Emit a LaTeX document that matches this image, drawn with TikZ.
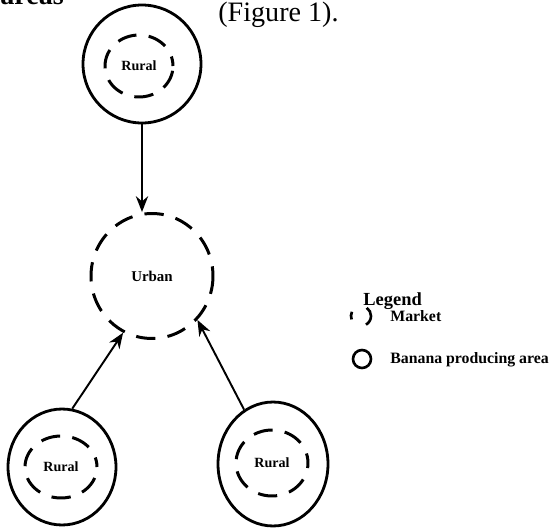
\documentclass[tikz,border=0pt]{standalone}
\usepackage{fontspec}
\setmainfont{Liberation Serif}
\usetikzlibrary{arrows.meta,shapes.geometric}
\tikzset{
  area/.style={ellipse,draw=black,line width=1.6pt,inner sep=0pt},
  mkt/.style={ellipse,draw=black,line width=1.7pt,inner sep=0pt,
              dash pattern=on 11pt off 7pt,dash phase=5.5pt,
              font=\fontsize{8}{9}\selectfont\bfseries},
  ln/.style={-{Stealth[length=9pt,width=7pt]},line width=1.1pt},
  lbl/.style={font=\fontsize{9}{10}\selectfont\bfseries},
}
\begin{document}
\begin{tikzpicture}[x=0.02cm,y=-0.02cm]
    \useasboundingbox (0,0) rectangle (549,528);
    % running text of the page
    \node[anchor=base west,inner sep=0pt,font=\fontsize{16}{18}\selectfont\bfseries]
      (txtareas) at (0,4) {areas};
    \node[anchor=base west,inner sep=0pt,font=\fontsize{16}{18}\selectfont]
      (txtfig) at (218,21) {(Figure 1).};
    % producing areas
    \node[area,minimum width=2.36cm,minimum height=2.36cm] (ruraltop) at (142,64) {};
    \node[area,minimum width=2.16cm,minimum height=2.32cm] (rurall) at (62,467) {};
    \node[area,minimum width=2.2cm,minimum height=2.48cm] (ruralr) at (273,464) {};
    % markets
    \node[mkt,minimum width=1.36cm,minimum height=1.24cm] (mkttop) at (139,66) {Rural};
    \node[mkt,minimum width=1.44cm,minimum height=1.24cm] (mktl) at (61,467) {Rural};
    \node[mkt,minimum width=1.44cm,minimum height=1.32cm] (mktr) at (272,463) {Rural};
    \node[mkt,minimum width=2.44cm,minimum height=2.5cm,
          font=\fontsize{8.5}{10}\selectfont\bfseries] (urban) at (152,276) {Urban};
    % flows
    \draw[ln] (ruraltop.south) -- (ruraltop.south |- urban.north);
    \draw[ln] (rurall.80) -- (urban.243);
    \draw[ln] (ruralr.118) -- (urban.316);
    % legend
    \node[anchor=base west,inner sep=0pt,font=\fontsize{10.5}{12}\selectfont\bfseries]
      (leg) at (363,305) {Legend};
    \coordinate (mkticon) at (361,316);
    \draw[line width=1.5pt] (mkticon) ++(155:0.2cm) arc[start angle=155,end angle=200,radius=0.2cm];
    \draw[line width=1.5pt] (mkticon) ++(-60:0.2cm) arc[start angle=-60,end angle=55,radius=0.2cm];
    \node[circle,draw=black,line width=1.5pt,minimum size=0.36cm,inner sep=0pt]
      (areaicon) at (362,359) {};
    \node[anchor=base west,inner sep=0pt,lbl] (legmkt) at (390,321) {Market};
    \node[anchor=base west,inner sep=0pt,lbl] (legarea) at (390,363) {Banana producing area};
\end{tikzpicture}
\end{document}
